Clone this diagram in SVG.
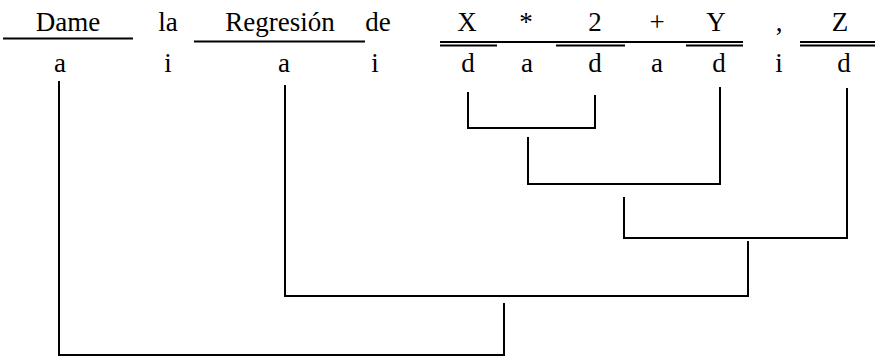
<svg xmlns="http://www.w3.org/2000/svg" width="878" height="357" viewBox="0 0 878 357">
<style>
text{font-family:'Liberation Serif','Times New Roman',Tinos,'DejaVu Serif',serif;font-size:27px;fill:#000;text-anchor:middle}
.ul{stroke:#000;stroke-width:2;fill:none}
.c{stroke:#000;stroke-width:2;fill:none;stroke-linecap:square}
</style>
<rect width="878" height="357" fill="#fff"/>
<g id="w1"><text x="68" y="31" font-family="Liberation Serif, serif">Dame</text><line class="ul" x1="3" y1="38.5" x2="133" y2="38.5"/><text x="60" y="72">a</text></g>
<g id="w2"><text x="168" y="31">la</text><text x="168" y="72">i</text></g>
<g id="w3"><text x="280" y="31">Regresión</text><line class="ul" x1="194" y1="41.5" x2="365" y2="41.5"/><text x="284" y="72">a</text></g>
<g id="w4"><text x="378" y="31">de</text><text x="375" y="72">i</text></g>
<g id="w5"><text x="467" y="31">X</text><line class="ul" x1="440" y1="42" x2="743" y2="42"/><line class="ul" x1="440" y1="45.5" x2="497" y2="45.5"/><text x="468" y="72">d</text></g>
<g id="w6"><text x="526" y="31">*</text><text x="527" y="72">a</text></g>
<g id="w7"><text x="595" y="31">2</text><line class="ul" x1="556" y1="45.5" x2="625" y2="45.5"/><text x="595" y="72">d</text></g>
<g id="w8"><text x="657" y="31">+</text><text x="657" y="72">a</text></g>
<g id="w9"><text x="716" y="31">Y</text><line class="ul" x1="686" y1="45.5" x2="743" y2="45.5"/><text x="719" y="72">d</text></g>
<g id="w10"><text x="779" y="31">,</text><text x="779" y="72">i</text></g>
<g id="w11"><text x="840" y="31">Z</text><line class="ul" x1="800" y1="42" x2="875" y2="42"/><line class="ul" x1="800" y1="45.5" x2="875" y2="45.5"/><text x="844" y="72">d</text></g>
<g id="connectors">
<path class="c" d="M468,93 V128 H595 V96"/>
<path class="c" d="M528,138 V184 H720 V88"/>
<path class="c" d="M624,198 V238 H847 V89"/>
<path class="c" d="M748,242 V296 H285 V86"/>
<path class="c" d="M504,304 V355 H59 V82"/>
</g>
</svg>
